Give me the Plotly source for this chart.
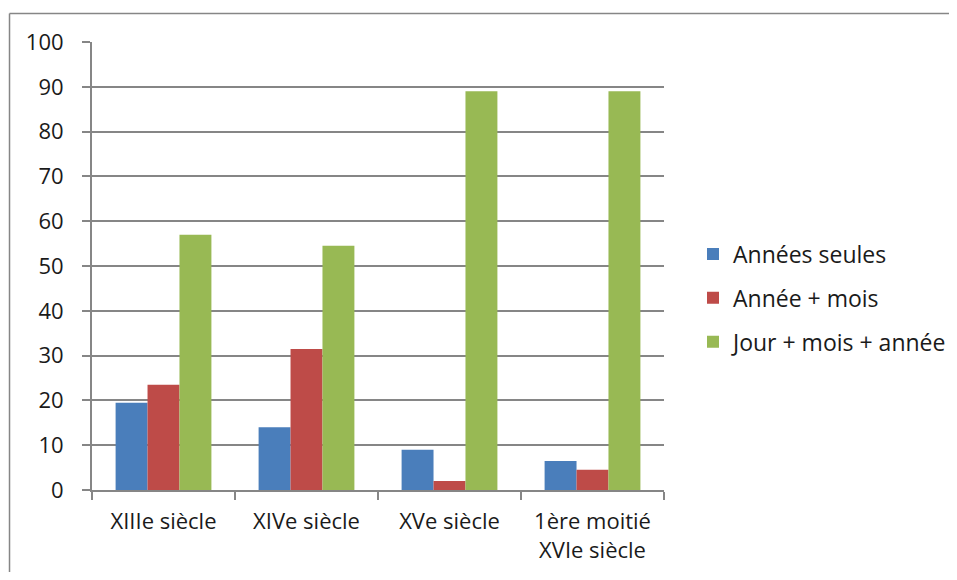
import plotly.graph_objects as go

# 데이터
categories = ["XIIIe siècle", "XIVe siècle", "XVe siècle", "1ère moitié<br>XVIe siècle"]
annees_seules = [19.5, 14, 9, 6.5]
annee_mois = [23.5, 31.5, 2, 4.5]
jour_mois_annee = [57, 54.5, 89, 89]

series_names = ["Années seules", "Année + mois", "Jour + mois + année"]
series_values = [annees_seules, annee_mois, jour_mois_annee]
series_colors = ["#4a7ebb", "#be4b48", "#98b954"]

y_ticks = list(range(0, 101, 10))

fig = go.Figure()
for name, vals, col in zip(series_names, series_values, series_colors):
    fig.add_trace(go.Bar(
        x=categories,
        y=vals,
        name=name,
        legendgroup=name,
        marker=dict(color=col, line=dict(width=0)),
    ))

grey = "#868686"
# 차트 테두리 (왼쪽, 위쪽)
frame = dict(type="line", xref="paper", yref="paper", line=dict(color=grey, width=1.5), layer="below")
fig.update_layout(
    barmode="group",
    bargap=0.33,
    bargroupgap=0,
    width=941,
    height=564,
    margin=dict(l=84, r=285, t=34, b=82, autoexpand=False),
    plot_bgcolor="white",
    paper_bgcolor="white",
    font=dict(family="Open Sans, sans-serif", size=22, color="#1a1a1a"),
    legend=dict(
        x=1.0507, y=0.4286, xanchor="left", yanchor="middle",
        font=dict(size=23),
        tracegroupgap=11,
        itemwidth=30,
    ),
    xaxis=dict(
        showline=True, linecolor=grey, linewidth=2,
        ticks="outside", tickson="boundaries", ticklen=8, tickcolor=grey, tickwidth=2,
        showgrid=False,
        ticklabelstandoff=11,
    ),
    yaxis=dict(
        range=[0, 100], tickvals=y_ticks,
        showline=True, linecolor=grey, linewidth=2,
        ticks="outside", ticklen=8, tickcolor=grey, tickwidth=2,
        showgrid=True, gridcolor=grey, gridwidth=1.5,
        zeroline=False,
        ticklabelstandoff=14,
    ),
    shapes=[
        dict(frame, x0=-0.1442, x1=1.51, y0=1.0636, y1=1.0636),
        dict(frame, x0=-0.1442, x1=-0.1442, y0=-0.19, y1=1.0636),
    ],
)

fig.write_html("out.html")
